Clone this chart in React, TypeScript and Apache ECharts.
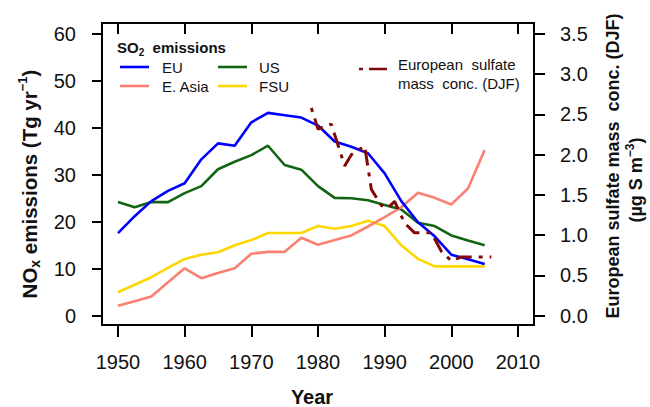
import React, { useEffect, useRef } from 'react';
import * as echarts from 'echarts';

const FONT = 'Liberation Sans, Arial, Helvetica, sans-serif';

const years = [1950, 1952.5, 1955, 1957.5, 1960, 1962.5, 1965, 1967.5, 1970, 1972.5, 1975, 1977.5, 1980, 1982.5, 1985, 1987.5, 1990, 1992.5, 1995, 1997.5, 2000, 2002.5, 2005];
const euValues = [17.6, 21.2, 24.4, 26.6, 28.2, 33.3, 36.7, 36.2, 41.2, 43.2, 42.7, 42.2, 40.5, 37.1, 36.0, 34.6, 30.3, 24.4, 19.9, 16.9, 13.0, 12.0, 11.0];
const eAsiaValues = [2.1, 3.1, 4.1, 7.1, 10.1, 8.0, 9.1, 10.1, 13.2, 13.6, 13.6, 16.6, 15.1, 16.1, 17.1, 19.0, 21.0, 23.1, 26.2, 25.1, 23.7, 27.1, 35.3];
const usValues = [24.2, 23.1, 24.2, 24.2, 26.1, 27.6, 31.2, 32.8, 34.2, 36.2, 32.1, 31.1, 27.6, 25.1, 25.0, 24.6, 23.6, 22.6, 19.8, 19.1, 17.1, 16.0, 15.0];
const fsuValues = [5.0, 6.6, 8.2, 10.2, 12.1, 13.0, 13.5, 15.0, 16.1, 17.6, 17.6, 17.6, 19.1, 18.5, 19.1, 20.2, 19.1, 15.0, 12.1, 10.5, 10.5, 10.5, 10.5];

const sulfateYears = [1979, 1980, 1982, 1984, 1985, 1987, 1988, 1989.5, 1990.5, 1991.5, 1993, 1994.5, 1997, 1998.5, 2000, 2001.5, 2006];
const sulfateValues = [2.58, 2.32, 2.38, 1.86, 2.0, 2.11, 1.57, 1.37, 1.34, 1.42, 1.15, 1.03, 1.03, 0.8, 0.68, 0.73, 0.73];

const xTicks = { min: 1950, max: 2010, interval: 10 };
const yLeftTicks = { min: 0, max: 60, interval: 10 };
const yRightTicks = { min: 0, max: 3.5, interval: 0.5 };

const COLORS = {
  eu: '#0000ff',
  eAsia: '#fa8072',
  us: '#136413',
  fsu: '#ffd700',
  sulfate: '#820808',
};

const pairs = (xs: number[], ys: number[]) => xs.map((x, i) => [x, ys[i]]);

export default function App() {
  const ref = useRef<HTMLDivElement>(null);

  useEffect(() => {
    const chart = echarts.init(ref.current!, null, { renderer: 'svg' });
    const tickStyle = { color: '#000', width: 2 };
    const lineSeries = (name: string, data: number[][], color: string, extra: any = {}) => ({
      name,
      type: 'line',
      data,
      showSymbol: false,
      symbol: 'none',
      lineStyle: { color, width: 2.6, ...(extra.lineStyle || {}) },
      z: extra.z || 2,
      xAxisIndex: 0,
      yAxisIndex: extra.yAxisIndex || 0,
    });

    const legendLine = (x1: number, y: number, color: string, dash?: number[]) => ({
      type: 'line',
      shape: { x1, y1: y, x2: x1 + 29, y2: y },
      style: { stroke: color, lineWidth: 2.6, lineDash: dash },
    });
    const legendText = (x: number, y: number, text: string) => ({
      type: 'text',
      x,
      y,
      style: {
        text,
        fill: '#111',
        fontSize: 15,
        fontFamily: FONT,
        align: 'left',
        textAlign: 'left',
        verticalAlign: 'middle',
        textVerticalAlign: 'middle',
      },
    });

    chart.setOption({
      animation: false,
      backgroundColor: '#fff',
      grid: { left: 118, top: 34, width: 400, height: 281.7, containLabel: false },
      xAxis: [
        {
          type: 'value',
          position: 'bottom',
          ...xTicks,
          offset: 9.3,
          axisLine: { show: false, onZero: false },
          axisTick: { show: true, length: 12, lineStyle: tickStyle },
          axisLabel: { fontSize: 20, color: '#111', margin: 27, fontFamily: FONT, formatter: (v: number) => String(v) },
          splitLine: { show: false },
        },
        {
          type: 'value',
          position: 'top',
          ...xTicks,
          offset: 11,
          axisLine: { show: false, onZero: false },
          axisTick: { show: true, inside: true, length: 11, lineStyle: tickStyle },
          axisLabel: { show: false },
          splitLine: { show: false },
        },
      ],
      yAxis: [
        {
          type: 'value',
          position: 'left',
          ...yLeftTicks,
          offset: 16,
          axisLine: { show: false, onZero: false },
          axisTick: { show: true, length: 10, lineStyle: tickStyle },
          axisLabel: { fontSize: 20, color: '#111', margin: 26, fontFamily: FONT },
          splitLine: { show: false },
        },
        {
          type: 'value',
          position: 'right',
          ...yRightTicks,
          offset: 16,
          axisLine: { show: false, onZero: false },
          axisTick: { show: true, length: 11, lineStyle: tickStyle },
          axisLabel: {
            fontSize: 20,
            color: '#111',
            margin: 26,
            fontFamily: FONT,
            formatter: (v: number) => v.toFixed(1),
          },
          splitLine: { show: false },
        },
      ],
      series: [
        lineSeries('US', pairs(years, usValues), COLORS.us),
        lineSeries('FSU', pairs(years, fsuValues), COLORS.fsu),
        lineSeries('E. Asia', pairs(years, eAsiaValues), COLORS.eAsia),
        lineSeries('EU', pairs(years, euValues), COLORS.eu),
        lineSeries('European sulfate mass conc. (DJF)', pairs(sulfateYears, sulfateValues), COLORS.sulfate, {
          yAxisIndex: 1,
          z: 5,
          lineStyle: { width: 3, type: [4, 7, 16, 7] },
        }),
      ],
      graphic: [
        {
          type: 'rect',
          shape: { x: 102, y: 23, width: 432, height: 302 },
          style: { fill: 'none', stroke: '#000', lineWidth: 2 },
          z: 10,
        },
        {
          type: 'text',
          x: 312,
          y: 397,
          style: {
            text: 'Year',
            fill: '#111',
            fontSize: 20,
            fontWeight: 'bold',
            fontFamily: FONT,
            align: 'center',
            textAlign: 'center',
            verticalAlign: 'middle',
            textVerticalAlign: 'middle',
          },
        },
        {
          type: 'text',
          x: 29,
          y: 184,
          rotation: Math.PI / 2,
          style: {
            text: '{m|NO}{s|x}{m| emissions (Tg yr}{p|−1}{m|)}',
            fill: '#111',
            align: 'center',
            textAlign: 'center',
            verticalAlign: 'middle',
            textVerticalAlign: 'middle',
            rich: {
              m: { fontSize: 20.5, fontWeight: 'bold', fontFamily: FONT, fill: '#111', color: '#111', lineHeight: 26, verticalAlign: 'middle' },
              s: { fontSize: 14, fontWeight: 'bold', fontFamily: FONT, fill: '#111', color: '#111', lineHeight: 14, verticalAlign: 'bottom' },
              p: { fontSize: 13, fontWeight: 'bold', fontFamily: FONT, fill: '#111', color: '#111', lineHeight: 13, verticalAlign: 'top' },
            },
          },
        },
        {
          type: 'text',
          x: 613,
          y: 166,
          rotation: Math.PI / 2,
          style: {
            text: 'European sulfate mass  conc. (DJF)',
            fill: '#111',
            fontSize: 18,
            fontWeight: 'bold',
            fontFamily: FONT,
            align: 'center',
            textAlign: 'center',
            verticalAlign: 'middle',
            textVerticalAlign: 'middle',
          },
        },
        {
          type: 'text',
          x: 636,
          y: 180,
          rotation: Math.PI / 2,
          style: {
            text: '{m|(µg S m}{p|−3}{m|)}',
            fill: '#111',
            align: 'center',
            textAlign: 'center',
            verticalAlign: 'middle',
            textVerticalAlign: 'middle',
            rich: {
              m: { fontSize: 18, fontWeight: 'bold', fontFamily: FONT, fill: '#111', color: '#111', lineHeight: 24, verticalAlign: 'middle' },
              p: { fontSize: 12, fontWeight: 'bold', fontFamily: FONT, fill: '#111', color: '#111', lineHeight: 12, verticalAlign: 'top' },
            },
          },
        },
        {
          type: 'text',
          x: 117,
          y: 47,
          style: {
            text: '{m|SO}{s|2}{m|  emissions}',
            fill: '#111',
            align: 'left',
            textAlign: 'left',
            verticalAlign: 'middle',
            textVerticalAlign: 'middle',
            rich: {
              m: { fontSize: 15, fontWeight: 'bold', fontFamily: FONT, fill: '#111', color: '#111', lineHeight: 20, verticalAlign: 'middle' },
              s: { fontSize: 10, fontWeight: 'bold', fontFamily: FONT, fill: '#111', color: '#111', lineHeight: 10, verticalAlign: 'bottom' },
            },
          },
        },
        legendLine(120, 67, COLORS.eu),
        legendText(162, 67, 'EU'),
        legendLine(120, 86, COLORS.eAsia),
        legendText(162, 86, 'E. Asia'),
        legendLine(218, 67, COLORS.us),
        legendText(259, 67, 'US'),
        legendLine(218, 86, COLORS.fsu),
        legendText(259, 86, 'FSU'),
        legendLine(359, 69, COLORS.sulfate, [4, 6, 18, 6]),
        legendText(398, 64, 'European  sulfate'),
        legendText(398, 83, 'mass  conc. (DJF)'),
      ],
    });
    return () => chart.dispose();
  }, []);

  return <div ref={ref} style={{ position: 'fixed', left: 0, top: 0, width: 650, height: 407 }} />;
}
